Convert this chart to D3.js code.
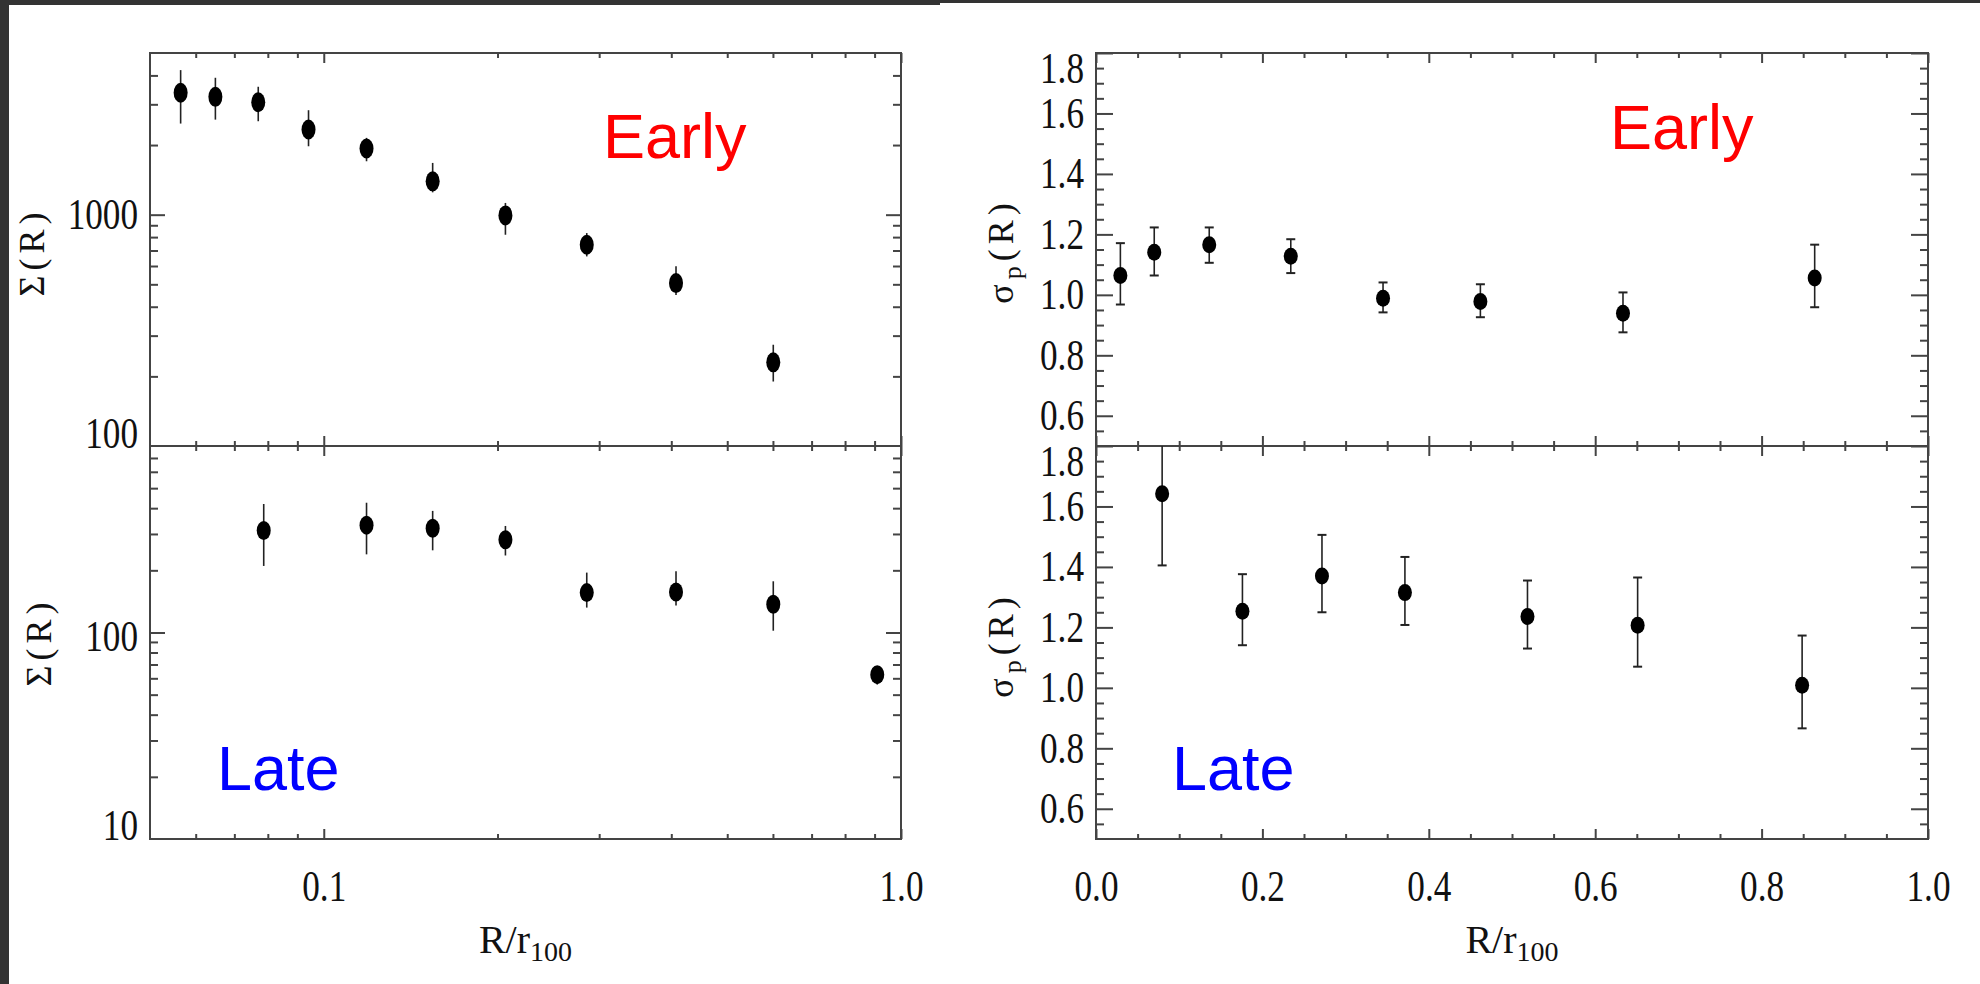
<!DOCTYPE html>
<html><head><meta charset="utf-8">
<script src="https://cdn.jsdelivr.net/npm/d3@7"></script>
<style>body{margin:0;background:#333;} svg{display:block;}</style>
</head><body>
<script>
// ---------- data ----------
// Left panels: surface density Sigma(R) vs R/r100 (log-log)
const earlyR      = [0.0565, 0.0649, 0.0770, 0.0941, 0.1186, 0.1544, 0.2064, 0.2855, 0.4076, 0.6008];
const earlySigma  = [3365, 3232, 3062, 2334, 1932, 1394, 993, 741, 506, 230];
const earlySigHi  = [4217, 3907, 3573, 2829, 2148, 1674, 1124, 833, 598, 274];
const earlySigLo  = [2477, 2576, 2535, 1976, 1702, 1249, 819, 660, 450, 190];

const lateR       = [0.0787, 0.1186, 0.1544, 0.2064, 0.2855, 0.4076, 0.6008, 0.9096];
const lateSigma   = [312, 331, 320, 281, 156, 157, 137, 62.5];
const lateSigHi   = [419, 425, 388, 328, 195, 198, 177, 68];
const lateSigLo   = [210, 239, 250, 236, 132, 135, 102, 56];

// Right panels: velocity dispersion sigma_p(R) vs R/r100 (linear)
const earlyRv     = [0.0293, 0.0700, 0.1361, 0.2341, 0.3450, 0.4620, 0.6334, 0.8638];
const earlySp     = [1.064, 1.141, 1.166, 1.128, 0.989, 0.978, 0.939, 1.056];
const earlySpHi   = [1.171, 1.223, 1.223, 1.184, 1.041, 1.035, 1.008, 1.166];
const earlySpLo   = [0.968, 1.064, 1.106, 1.072, 0.942, 0.926, 0.876, 0.959];

const lateRv      = [0.0795, 0.176, 0.2716, 0.3713, 0.5186, 0.651, 0.8487];
const lateSp      = [1.642, 1.2535, 1.370, 1.315, 1.236, 1.207, 1.0085];
const lateSpHi    = [1.90, 1.376, 1.506, 1.433, 1.355, 1.365, 1.173];
const lateSpLo    = [1.405, 1.141, 1.250, 1.208, 1.130, 1.070, 0.866];

// tick values / labels
const logXMajor   = [0.1, 1.0];
const logXMinor   = [0.06, 0.07, 0.08, 0.09, 0.2, 0.3, 0.4, 0.5, 0.6, 0.7, 0.8, 0.9];
const logXLabels  = [0.1, 1.0];
const topSigMajor = [1000];
const topSigMinor = [200, 300, 400, 500, 600, 700, 800, 900, 2000, 3000, 4000];
const topSigLabels= [100, 1000];
const botSigMajor = [100];
const botSigMinor = [20, 30, 40, 50, 60, 70, 80, 90, 200, 300, 400, 500, 600, 700];
const botSigLabels= [10, 100];
const linXMajor   = [0, 0.2, 0.4, 0.6, 0.8, 1.0];
const linXMinor   = [0.05, 0.1, 0.15, 0.25, 0.3, 0.35, 0.45, 0.5, 0.55, 0.65, 0.7, 0.75, 0.85, 0.9, 0.95];
const linXLabels  = [0, 0.2, 0.4, 0.6, 0.8, 1.0];
const spMajor     = [0.6, 0.8, 1.0, 1.2, 1.4, 1.6, 1.8];
const spMinor     = [0.55, 0.65, 0.7, 0.75, 0.85, 0.9, 0.95, 1.05, 1.1, 1.15, 1.25, 1.3, 1.35, 1.45, 1.5, 1.55, 1.65, 1.7, 1.75];
const spLabels    = [0.6, 0.8, 1.0, 1.2, 1.4, 1.6, 1.8];

// ---------- drawing ----------
const W = 1980, H = 984;
const svg = d3.select("body").append("svg").attr("width", W).attr("height", H);
svg.append("rect").attr("width", W).attr("height", H).attr("fill", "#333333");
svg.append("rect").attr("x", 9).attr("y", 5).attr("width", W - 9).attr("height", H - 5).attr("fill", "#ffffff");
svg.append("rect").attr("x", 940).attr("y", 3).attr("width", W - 940).attr("height", 4).attr("fill", "#ffffff");
const defs = svg.append("defs");

const LX0 = 150, LX1 = 901, RX0 = 1096, RX1 = 1928, YT = 53, YM = 446, YB = 839;
const xLog = d3.scaleLog().domain([0.05, 1.0]).range([LX0, LX1]);
const xLin = d3.scaleLinear().domain([0, 1.0]).range([RX0, RX1]);
const yTopSig = d3.scaleLog().domain([100, 5000]).range([YM, YT]);
const yBotSig = d3.scaleLog().domain([10, 800]).range([YB, YM]);
const yTopSp = d3.scaleLinear().domain([0.5, 1.8]).range([YM, YT]);
const yBotSp = d3.scaleLinear().domain([0.5, 1.8]).range([YB, YM]);

const AX = "#444", SERIF = "'Liberation Serif', 'DejaVu Serif', serif";
let clipN = 0;

function panel(o) {
  const x = o.x, y = o.y;
  const [x0, x1] = x.range();
  const [yb, yt] = y.range();
  const id = "clip" + (clipN++);
  defs.append("clipPath").attr("id", id).append("rect")
    .attr("x", x0).attr("y", yt).attr("width", x1 - x0).attr("height", yb - yt);
  const g = svg.append("g");
  function add(axis, tx, ty) {
    const a = g.append("g").attr("transform", `translate(${tx},${ty})`).call(axis);
    a.select(".domain").remove();
    a.selectAll("text").remove();
    a.selectAll("line").attr("stroke", AX).attr("stroke-width", 2);
  }
  add(d3.axisTop(x).tickValues(o.xMajor).tickSize(10).tickSizeOuter(0).tickFormat(""), 0, yb);
  add(d3.axisTop(x).tickValues(o.xMinor).tickSize(5).tickSizeOuter(0).tickFormat(""), 0, yb);
  add(d3.axisBottom(x).tickValues(o.xMajor).tickSize(10).tickSizeOuter(0).tickFormat(""), 0, yt);
  add(d3.axisBottom(x).tickValues(o.xMinor).tickSize(5).tickSizeOuter(0).tickFormat(""), 0, yt);
  add(d3.axisRight(y).tickValues(o.yMajor).tickSize(o.yMajLen).tickSizeOuter(0).tickFormat(""), x0, 0);
  add(d3.axisRight(y).tickValues(o.yMinor).tickSize(8).tickSizeOuter(0).tickFormat(""), x0, 0);
  add(d3.axisLeft(y).tickValues(o.yMajor).tickSize(o.yMajLen).tickSizeOuter(0).tickFormat(""), x1, 0);
  add(d3.axisLeft(y).tickValues(o.yMinor).tickSize(8).tickSizeOuter(0).tickFormat(""), x1, 0);
  g.append("rect").attr("x", x0).attr("y", yt).attr("width", x1 - x0).attr("height", yb - yt)
    .attr("fill", "none").attr("stroke", AX).attr("stroke-width", 2);

  // y labels
  const la = svg.append("g").attr("transform", `translate(${x0},0)`)
    .call(d3.axisLeft(y).tickValues(o.yLabels).tickSize(0).tickPadding(12).tickFormat(o.yFmt));
  la.select(".domain").remove();
  la.selectAll("text")
    .attr("font-family", SERIF).attr("font-size", 44).attr("fill", "#111")
    .attr("x", -12 / 0.8).attr("transform", "scale(0.8,1)")
    .attr("dy", d => (14 + (o.yNudge ? o.yNudge(d) : 0)) + "px");

  // data
  const pts = o.xs.map((v, i) => ({ x: v, y: o.ys[i], hi: o.hi[i], lo: o.lo[i] }));
  const dg = svg.append("g").attr("clip-path", `url(#${id})`);
  dg.selectAll("line.err").data(pts).join("line")
    .attr("x1", d => x(d.x)).attr("x2", d => x(d.x))
    .attr("y1", d => y(d.hi)).attr("y2", d => y(d.lo))
    .attr("stroke", "#222").attr("stroke-width", 1.6);
  if (o.caps) {
    ["hi", "lo"].forEach(k => {
      dg.selectAll("line.cap" + k).data(pts).join("line")
        .attr("x1", d => x(d.x) - 4.5).attr("x2", d => x(d.x) + 4.5)
        .attr("y1", d => y(d[k])).attr("y2", d => y(d[k]))
        .attr("stroke", "#222").attr("stroke-width", 2);
    });
  }
  dg.selectAll("ellipse").data(pts).join("ellipse")
    .attr("cx", d => x(d.x)).attr("cy", d => y(d.y))
    .attr("rx", 7).attr("ry", o.ry).attr("fill", "#000");
}

function xLabels(x, vals, ybottom) {
  const a = svg.append("g").attr("transform", `translate(0,${ybottom})`)
    .call(d3.axisBottom(x).tickValues(vals).tickSize(0).tickFormat(d => d.toFixed(1)));
  a.select(".domain").remove();
  a.selectAll("text")
    .attr("font-family", SERIF).attr("font-size", 44).attr("fill", "#111")
    .attr("y", 62).attr("dy", 0).attr("transform", "scale(0.8,1)")
    .attr("x", 0);
}

const intFmt = d => String(d);
const spFmt = d => d.toFixed(1);

panel({ x: xLog, y: yTopSig, xMajor: logXMajor, xMinor: logXMinor, yMajor: topSigMajor, yMinor: topSigMinor,
  yMajLen: 15, yLabels: topSigLabels, yFmt: intFmt, yNudge: d => (d === 100 ? -13 : 0),
  xs: earlyR, ys: earlySigma, hi: earlySigHi, lo: earlySigLo, caps: false, ry: 10 });
panel({ x: xLog, y: yBotSig, xMajor: logXMajor, xMinor: logXMinor, yMajor: botSigMajor, yMinor: botSigMinor,
  yMajLen: 15, yLabels: botSigLabels, yFmt: intFmt, yNudge: d => (d === 10 ? -14 : 4),
  xs: lateR, ys: lateSigma, hi: lateSigHi, lo: lateSigLo, caps: false, ry: 9.5 });
panel({ x: xLin, y: yTopSp, xMajor: linXMajor, xMinor: linXMinor, yMajor: spMajor, yMinor: spMinor,
  yMajLen: 17, yLabels: spLabels, yFmt: spFmt, yNudge: d => (d === 1.8 ? 15 : 0),
  xs: earlyRv, ys: earlySp, hi: earlySpHi, lo: earlySpLo, caps: true, ry: 8.5 });
panel({ x: xLin, y: yBotSp, xMajor: linXMajor, xMinor: linXMinor, yMajor: spMajor, yMinor: spMinor,
  yMajLen: 17, yLabels: spLabels, yFmt: spFmt, yNudge: d => (d === 1.8 ? 15 : 0),
  xs: lateRv, ys: lateSp, hi: lateSpHi, lo: lateSpLo, caps: true, ry: 8.5 });

xLabels(xLog, logXLabels, YB);
xLabels(xLin, linXLabels, YB);

// axis titles
function yTitle(cx, cy, sub) {
  const t = svg.append("text").attr("transform", `translate(${cx},${cy}) rotate(-90)`)
    .attr("text-anchor", "middle").attr("dy", "0.35em")
    .attr("font-family", SERIF).attr("font-size", 36).attr("fill", "#111")
    .attr("letter-spacing", 5);
  if (sub) {
    t.append("tspan").text("σ");
    t.append("tspan").attr("font-size", 26).attr("dy", 8).text("p");
    t.append("tspan").attr("dy", -8).text("(R)");
  } else {
    t.text("Σ(R)");
  }
}
yTitle(31, 252, false);
yTitle(38, 642, false);
yTitle(1000, 251, true);
yTitle(1000, 645, true);

function xTitle(cx) {
  const t = svg.append("text").attr("x", cx).attr("y", 953).attr("text-anchor", "middle")
    .attr("font-family", SERIF).attr("font-size", 40).attr("fill", "#111");
  t.append("tspan").text("R/r");
  t.append("tspan").attr("font-size", 28).attr("dy", 8).text("100");
}
xTitle((LX0 + LX1) / 2);
xTitle((RX0 + RX1) / 2);

// panel annotations
function note(x, y, txt, col) {
  svg.append("text").attr("x", x).attr("y", y).text(txt)
    .attr("font-family", "'Liberation Sans', Arial, sans-serif").attr("font-size", 63).attr("fill", col);
}
note(603, 158, "Early", "#ff0000");
note(1610, 149, "Early", "#ff0000");
note(217, 790, "Late", "#0000ff");
note(1172, 790, "Late", "#0000ff");
</script>
</body></html>
